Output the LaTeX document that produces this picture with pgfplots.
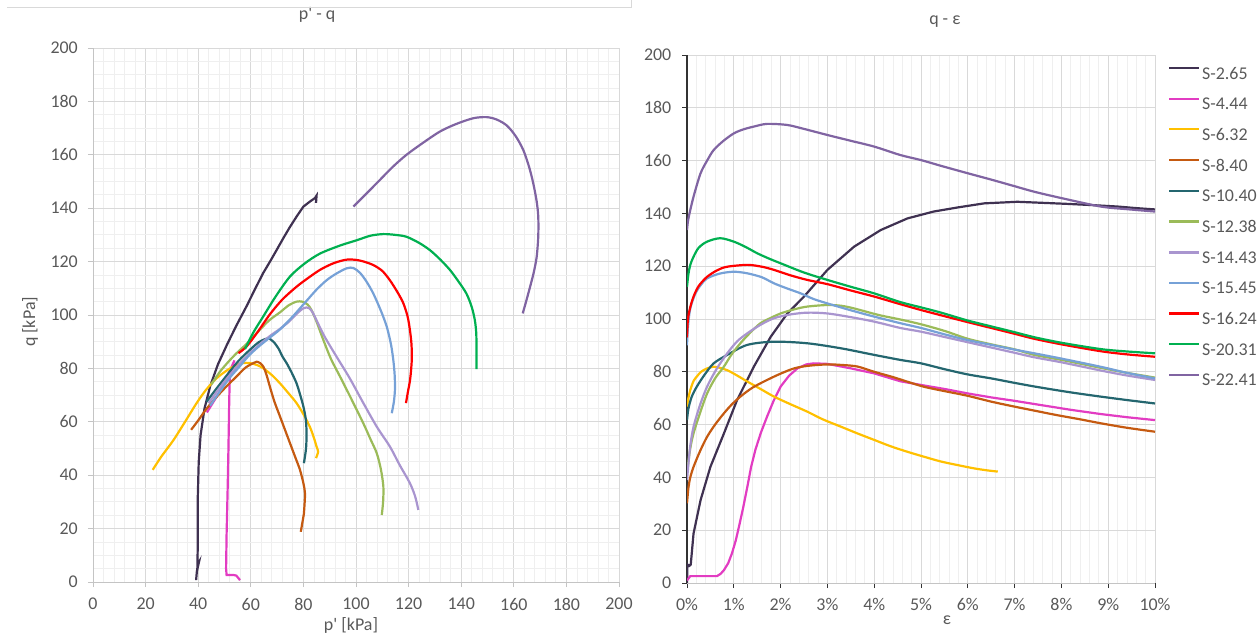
\documentclass[border=0pt]{standalone}
\usepackage{pgfplots}
\pgfplotsset{compat=1.18}
\usepackage{fontspec}
\setmainfont{Carlito}
\definecolor{txtgray}{HTML}{595959}
\definecolor{gridmaj}{HTML}{D9D9D9}
\definecolor{gridmin}{HTML}{EFEFEF}
\definecolor{axisgray}{HTML}{C4C4C4}
\definecolor{darkaxis}{HTML}{333333}
\definecolor{cA}{HTML}{3F3151}
\definecolor{cB}{HTML}{E23CC2}
\definecolor{cC}{HTML}{FFC000}
\definecolor{cD}{HTML}{C55A11}
\definecolor{cE}{HTML}{24666F}
\definecolor{cF}{HTML}{9BBB59}
\definecolor{cG}{HTML}{A995CF}
\definecolor{cH}{HTML}{76A1D7}
\definecolor{cI}{HTML}{FF0000}
\definecolor{cJ}{HTML}{00B050}
\definecolor{cK}{HTML}{8064A2}
\newcommand{\tf}{\fontsize{18}{21}\selectfont}
\pgfplotsset{
  base/.style={
    scale only axis, anchor=south west,
    ymin=0, ymax=200, ytick={0,20,...,200},
    /pgf/number format/assume math mode=true,
    tick align=outside, major tick length=5bp, minor tick length=0pt,
    xtick pos=left, ytick pos=left,
    axis x line*=bottom, axis y line*=left,
    axis line style={-},
    major grid style={color=gridmaj, line width=0.8bp},
    minor grid style={color=gridmin, line width=0.8bp},
    ticklabel style={font=\tf, text=txtgray},
    label style={font=\tf, text=txtgray},
    title style={font=\tf, text=txtgray},
    every axis plot/.append style={line width=2.2bp},
  }
}
\begin{document}
\begin{tikzpicture}
% ---------------- left: p' - q ----------------
\begin{axis}[base,
  at={(93bp,54bp)}, width=526bp, height=534bp,
  xmin=0, xmax=200, xtick={0,20,...,200},
  minor x tick num=4, minor y tick num=3, grid=both,
  x axis line style={color=axisgray, line width=0.8bp},
  y axis line style={color=axisgray, line width=0.8bp},
  tick style={color=axisgray, line width=0.8bp},
  yticklabel style={anchor=east, inner sep=0pt, xshift=-10bp},
  xticklabel style={anchor=north, inner sep=0pt, yshift=-11bp},
  title={p\textquotesingle{} - q},
  title style={at={(axis description cs:0.426,1.0508)}, anchor=center},
  xlabel={p\textquotesingle{} [kPa]},
  xlabel style={at={(axis description cs:0.4905,-0.0665)}, anchor=north, inner sep=0pt},
  ylabel={q [kPa]},
  ylabel style={at={(axis description cs:-0.1198,0.487)}, anchor=center, rotate=0},
]
\addplot[cA] coordinates {(39.2,0.7) (39.5,4) (40.3,7.5) (39.7,6.5) (39.8,12) (39.8,30) (40.2,45) (40.9,55) (42.4,65) (44.6,73.5) (47.5,81.5) (51,89) (54.5,96) (58.5,103.5) (61.5,109.5) (64.7,115.7) (67.3,120) (69.8,124.3) (72.5,129) (74.9,133) (77.5,137) (80,140.6) (82.5,142.5) (84.4,143.8) (85,144.7) (84.8,142)};
\addplot[cB] coordinates {(55.9,0.7) (54.5,2.4) (53.5,2.6) (50.8,2.6) (50.6,5) (50.8,18) (51.2,35) (51.5,50) (51.8,68) (52,77) (52.7,80.6) (53.8,83) (53.2,81.5) (52,79) (50,75) (48,71) (45.5,67) (43.3,63.5)};
\addplot[cC, smooth] coordinates {(22.7,42) (26,47) (30.5,53) (35,60) (39.4,67) (43,72) (47,76.3) (51,79.3) (54.6,81.3) (57,82) (59.7,82) (62.5,81.2) (64.8,80) (68,77.5) (71.1,74.4) (74.5,70.5) (77.4,67) (80.2,62.5) (82.5,58) (84,54) (85,50.7) (85.6,48.8) (84.8,46.4)};
\addplot[cD, smooth] coordinates {(37.3,57) (40,60.5) (42.5,64) (45.8,68) (50,72.5) (54.6,77) (58,80.3) (61,82) (62.2,82.5) (63.5,82) (64.8,80.6) (66,77.5) (67.3,73) (69,67.5) (71.1,62) (73,57) (74.9,52) (77,46.5) (78.7,42) (80,37) (80.6,33.2) (80.4,28.5) (80.2,25.7) (79,18.8)};
\addplot[cE, smooth] coordinates {(43.2,67.5) (47,72.5) (52,78.8) (55.5,83) (59.7,87) (63,89.8) (65.5,91) (66.7,91.3) (68.6,90) (70.5,87.5) (72,84.5) (73.6,82) (75.5,78.5) (77.4,74.4) (78.8,70) (80,65.7) (80.9,61) (81.2,55.7) (81,50) (80.2,44.5)};
\addplot[cF, smooth] coordinates {(45,74) (48.3,78.8) (51.5,82.5) (54.6,85.7) (58.4,89.2) (63,94) (67,98) (71.1,101) (74.5,103.7) (77.4,105) (79.5,105) (81.5,104) (83,102) (85,97.5) (87.6,90.6) (90.5,83.5) (93.9,77) (98,69) (102.8,59.4) (105.5,53.5) (107.9,48.2) (109.5,42) (110.4,35.7) (110.3,30) (109.8,25.1)};
\addplot[cG, smooth] coordinates {(44,67) (48,72.5) (52,77.5) (56,82) (60,86) (64,89.5) (67.5,92.3) (71.1,94.8) (74.5,97.5) (77.5,100.5) (80,102.5) (82,102.7) (83.5,101) (85,98) (88,92) (92.6,84.4) (97.5,76.5) (102.8,67) (108,58) (112.9,50.7) (116.5,44) (120.5,37) (122.5,32) (123.7,27)};
\addplot[cH, smooth] coordinates {(44.5,66) (48,71) (52,76.5) (56,81) (59,84.5) (62.2,87.5) (66.5,91) (71.1,94.6) (76,99.5) (81.2,105.3) (85,109.5) (88.8,113) (92.5,115.5) (96.5,117.5) (99,117.6) (101.5,115.8) (104,112.5) (106.6,108) (109.5,101.5) (111.7,95.6) (113.3,89) (114.2,83) (114.7,77.5) (114.8,72) (114.4,67.5) (113.6,63.2)};
\addplot[cI, smooth] coordinates {(55.3,85.7) (58.4,88.2) (62.5,93.5) (67.3,100.3) (72,105.8) (77.4,110.6) (82,114) (86.3,116.9) (90.5,119) (94,120.2) (97,120.8) (100.3,120.6) (103,120) (106.6,118.7) (110,116.5) (112.9,113) (115.8,108.5) (118,104.4) (119.6,99.5) (120.5,94.4) (121.1,89) (121.2,83) (120.6,76) (119.7,71) (119,67)};
\addplot[cJ, smooth] coordinates {(57.8,87.3) (61,93.5) (64.7,99.4) (69.5,107) (74.9,114.4) (80.5,119.3) (86.3,123) (93.9,126) (100.3,128) (105.5,129.7) (110.4,130.3) (115,130) (119.2,129.3) (124,127) (128.1,124.3) (132,120.8) (135.7,116.9) (139,112.5) (142,108) (144,103) (145.2,98) (145.7,93.5) (145.8,89.4) (145.8,84.5) (145.8,79.7)};
\addplot[cK, smooth] coordinates {(99,140.6) (104,145.5) (109.1,150.6) (114,155.5) (119.2,160) (125.5,164.5) (131.9,168.7) (138,171.5) (144.6,173.7) (149.7,174.1) (153.5,173.2) (157.3,171) (160.7,167) (163.6,161.8) (165.8,155.5) (167.4,149.3) (168.7,142.5) (169.3,136.8) (169.3,129.5) (168.7,121.8) (167.6,116) (166.2,110.6) (164.8,105.5) (163.4,100.6)};
\end{axis}
% ---------------- right: q - eps ----------------
\begin{axis}[base,
  at={(687bp,53bp)}, width=468bp, height=528bp,
  xmin=0, xmax=10, xtick={0,1,...,10},
  xticklabels={0\%,1\%,2\%,3\%,4\%,5\%,6\%,7\%,8\%,9\%,10\%},
  minor x tick num=4, minor y tick num=0, grid=both,
  x axis line style={color=axisgray, line width=0.8bp},
  y axis line style={color=darkaxis, line width=1.6bp},
  tick style={color=darkaxis, line width=0.8bp},
  yticklabel style={anchor=east, inner sep=0pt, xshift=-10.5bp},
  xticklabel style={anchor=north, inner sep=0pt, yshift=-10bp},
  title={q - ε},
  title style={at={(axis description cs:0.551,1.0511)}, anchor=center},
  xlabel={ε},
  xlabel style={at={(axis description cs:0.5556,-0.070)}, anchor=center, inner sep=0pt},
  legend style={at={(axis description cs:1.0278,0.9775)}, anchor=north west,
    draw=none, fill=none, font=\tf, text=txtgray, inner sep=0pt, outer sep=0pt,
    row sep=17.1bp, column sep=2bp, nodes={inner sep=0pt}},
  legend cell align=left,
  legend image code/.code={\draw[#1, line width=2.2bp] (0bp,5.8bp) -- (30bp,5.8bp);},
]
\addplot[cA] coordinates {(0,0) (0.01,7) (0.05,6.5) (0.08,7) (0.14,18.8) (0.29,31.4) (0.5,44) (0.79,56.7) (1.07,69.3) (1.43,82) (1.79,93.3) (2.14,102) (2.5,108.5) (3,118.6) (3.57,127.4) (4.14,133.7) (4.71,138.1) (5.27,140.7) (5.8,142.3) (6.35,143.8) (7.06,144.4) (7.6,144) (8.13,143.6) (8.7,143.1) (9.2,142.6) (9.6,142) (10,141.5)};
\addlegendentry{S-2.65}
\addplot[cB] coordinates {(0,1) (0.07,2.6) (0.64,2.6) (0.72,3.5) (0.79,4.9) (0.88,7.5) (0.96,11.2) (1.04,16) (1.11,21.3) (1.2,28.5) (1.29,36.5) (1.37,44) (1.46,50.4) (1.58,57) (1.71,63) (1.85,69) (2,74.4) (2.18,78.5) (2.36,81.3) (2.55,82.8) (2.71,83.2) (3,83) (3.5,81.3) (4,79.4) (4.56,76.4) (5.07,74.8) (5.5,73.5) (6,71.8) (6.5,70.3) (7,69) (7.42,67.8) (8.2,65.6) (8.84,64) (9.4,62.8) (10,61.7)};
\addlegendentry{S-4.44}
\addplot[cC, smooth] coordinates {(0,66.8) (0.03,70) (0.07,73.1) (0.14,76.5) (0.21,78.2) (0.3,80) (0.43,81.3) (0.57,81.9) (0.7,81.5) (0.86,80.6) (1.05,78.8) (1.29,76.3) (1.57,73.5) (1.86,70.6) (2.2,67.8) (2.57,64.9) (2.9,62) (3.29,59.2) (3.65,56.6) (4,54.2) (4.35,51.8) (4.71,49.7) (5.07,47.8) (5.43,46) (5.8,44.6) (6.14,43.4) (6.4,42.7) (6.64,42.2)};
\addlegendentry{S-6.32}
\addplot[cD, smooth] coordinates {(0,30.2) (0.03,36) (0.07,40) (0.14,44) (0.28,50) (0.43,55.4) (0.6,60) (0.79,64.3) (0.95,67.5) (1.14,70.6) (1.4,74) (1.71,76.9) (2,79.3) (2.29,81.3) (2.6,82.3) (3,82.8) (3.3,82.6) (3.64,82) (4,80) (4.4,78) (4.7,76.3) (5.07,74.3) (5.5,72.7) (6,70.9) (6.5,68.7) (7,66.8) (7.42,65.3) (7.9,63.6) (8.4,62) (8.84,60.5) (9.4,58.8) (10,57.3)};
\addlegendentry{S-8.40}
\addplot[cE, smooth] coordinates {(0,61.7) (0.03,66) (0.1,70.5) (0.21,74.4) (0.38,79) (0.57,83.2) (0.86,86.4) (1.29,90.2) (1.86,91.4) (2.57,90.8) (3.29,88.9) (4,86.4) (4.56,84.5) (5,83.2) (5.5,81) (6,79) (6.5,77.5) (7,75.8) (7.5,74.2) (8.2,72.2) (8.84,70.6) (9.4,69.3) (10,68)};
\addlegendentry{S-10.40}
\addplot[cF, smooth] coordinates {(0,41.5) (0.03,46) (0.07,51) (0.14,56.7) (0.28,64.5) (0.43,71.8) (0.6,77.5) (0.79,82) (0.95,86.5) (1.14,90.8) (1.35,94.8) (1.57,98.4) (1.8,100.5) (2,102.1) (2.3,103.7) (2.57,104.7) (3,105.3) (3.3,105) (3.57,104) (4.1,101.5) (4.56,99.8) (5,98) (5.5,95.5) (6,92.5) (6.5,90.4) (7,88.5) (7.42,86.4) (8,84.5) (8.84,81.5) (9.4,79.6) (10,77.8)};
\addlegendentry{S-12.38}
\addplot[cG, smooth] coordinates {(0,39) (0.03,45) (0.07,52) (0.14,59.2) (0.28,67.5) (0.43,74.4) (0.63,81) (0.86,87) (1.07,91.5) (1.29,94.6) (1.57,97.8) (1.86,100.3) (2.2,101.7) (2.57,102.4) (3,102.1) (3.5,100.7) (4,99) (4.56,96.6) (5,95.2) (5.5,93.2) (6,91.2) (6.5,89.2) (7,87.2) (7.42,85.5) (8,83.6) (8.84,80.5) (9.4,78.6) (10,76.9)};
\addlegendentry{S-14.43}
\addplot[cH, smooth] coordinates {(0,90) (0.02,97) (0.07,104) (0.18,109.7) (0.3,113) (0.43,115.4) (0.7,117.2) (1,117.9) (1.29,117.3) (1.6,115.8) (1.86,113.5) (2.15,111.5) (2.43,109.7) (2.7,107.6) (3,105.9) (3.5,103.3) (4,100.9) (4.56,98.4) (5,96.6) (5.5,94.2) (6,92) (6.5,90.2) (7,88.4) (7.42,87) (8,85) (8.84,81.9) (9.4,79.6) (10,77.5)};
\addlegendentry{S-15.45}
\addplot[cI, smooth] coordinates {(0,93) (0.02,100) (0.07,104.5) (0.14,108.5) (0.25,112.5) (0.43,116) (0.65,118.5) (0.86,119.8) (1.29,120.5) (1.6,119.8) (1.86,118.6) (2.2,116.6) (2.57,114.8) (3,113.2) (3.5,110.8) (4,108.5) (4.56,105.6) (5,103.4) (5.43,101.4) (6,98.8) (6.5,96.6) (7,94.4) (7.42,92.5) (8,90.4) (8.84,87.8) (9.4,86.6) (10,85.7)};
\addlegendentry{S-16.24}
\addplot[cJ, smooth] coordinates {(0,112.2) (0.03,117) (0.07,120.5) (0.14,123.6) (0.25,127) (0.43,129.3) (0.71,130.6) (1,129.3) (1.25,127.3) (1.5,124.9) (1.75,122.9) (2,121.1) (2.5,117.6) (3,114.8) (3.5,112.2) (4,109.7) (4.56,106.4) (5,104.4) (5.43,102.4) (6,99.4) (6.5,97.2) (7,95) (7.42,93.1) (8,91) (8.84,88.6) (9.4,87.7) (10,87)};
\addlegendentry{S-20.31}
\addplot[cK, smooth] coordinates {(0,133.7) (0.02,137) (0.07,141.3) (0.15,147) (0.29,155.2) (0.43,160) (0.57,164) (0.78,167.5) (1,170.3) (1.2,171.8) (1.43,172.9) (1.71,173.9) (2.14,173.5) (2.5,172) (3,169.7) (3.5,167.5) (4,165.3) (4.56,162.1) (5,160.2) (5.43,158) (6,155.2) (6.5,152.8) (7,150.3) (7.42,148.2) (8,145.8) (8.84,142.6) (9.4,141.6) (10,140.7)};
\addlegendentry{S-22.41}
\end{axis}
\draw[color=gridmaj, line width=0.8bp] (7bp,629bp) -- (631bp,629bp) -- (631bp,636bp);
\pgfresetboundingbox
\useasboundingbox (0bp,0bp) rectangle (1258bp,636bp);
\end{tikzpicture}
\end{document}
